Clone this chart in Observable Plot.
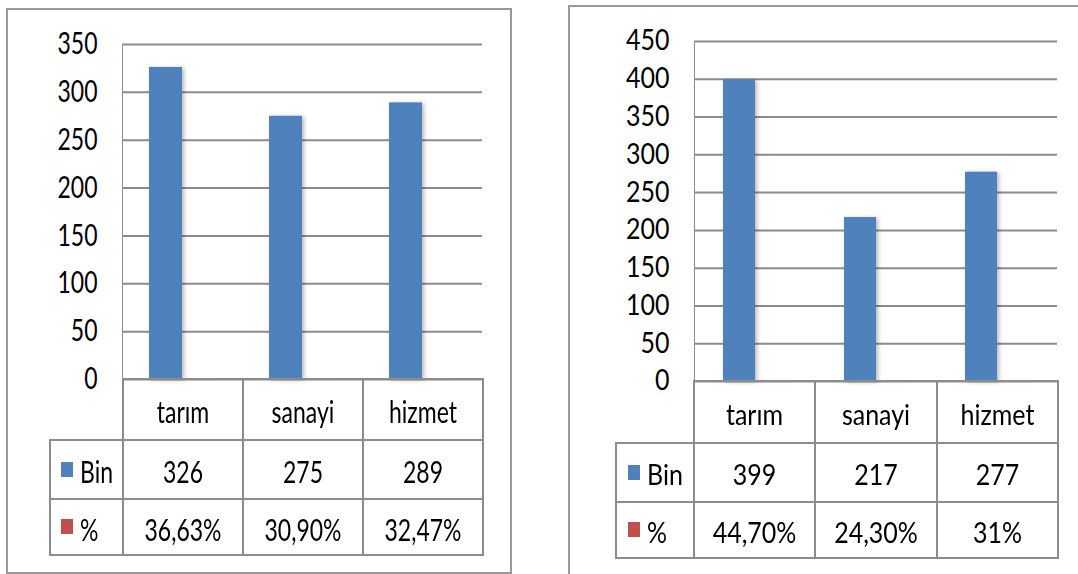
<!DOCTYPE html>
<html>
<head>
<meta charset="utf-8">
<script src="https://cdn.jsdelivr.net/npm/d3@7"></script>
<script src="https://cdn.jsdelivr.net/npm/@observablehq/plot@0.6"></script>
<style>
  html, body { margin: 0; padding: 0; background: #fff; overflow: hidden; }
  #root { position: relative; width: 1078px; height: 574px; overflow: hidden; background: #fff;
          font-family: Lato, "Open Sans", sans-serif; }
  .panel { position: absolute; border: 2px solid #9a9a9a; box-sizing: border-box; }
  .chart { position: absolute; }
  .chart svg text { fill: #000; }
  .chart svg g[aria-label="bar"] rect { filter: drop-shadow(2px 1px 2px rgba(0,0,0,0.28)); }
  table.dt { position: absolute; border-collapse: collapse; table-layout: fixed; color: #000; }
  table.dt td { border: 2px solid #8c8c8c; text-align: center; vertical-align: middle; padding: 0; white-space: nowrap; }
  table.dt td.corner { border-top: hidden; border-left: hidden; }
  table.dt td.leg { text-align: left; }
  .tx { display: inline-block; vertical-align: middle; }
  .sw { display: inline-block; width: 12px; height: 15px; vertical-align: middle; margin-right: 7px; position: relative; top: -2px; }
</style>
</head>
<body>
<div id="root"></div>
<script>
// ---- data ----
const categories = ["tarım", "sanayi", "hizmet"];
const seriesNames = ["Bin", "%"];
const seriesColors = ["#4F81BD", "#C0504D"];

const leftBin = [326, 275, 289];
const leftPct = [0.3663, 0.3090, 0.3247];
const leftPctLabels = ["36,63%", "30,90%", "32,47%"];
const leftTicks = [0, 50, 100, 150, 200, 250, 300, 350];

const rightBin = [399, 217, 277];
const rightPct = [0.447, 0.243, 0.31];
const rightPctLabels = ["44,70%", "24,30%", "31%"];
const rightTicks = [0, 50, 100, 150, 200, 250, 300, 350, 400, 450];

const root = document.getElementById("root");

function panel(cfg) {
  const box = document.createElement("div");
  box.className = "panel";
  Object.assign(box.style, cfg.box);
  root.appendChild(box);

  const rows = categories.flatMap((c, i) => [
    {category: c, series: seriesNames[0], value: cfg.bin[i]},
    {category: c, series: seriesNames[1], value: cfg.pct[i]}
  ]);

  const chart = Plot.plot({
    width: cfg.svg.width,
    height: cfg.svg.height,
    marginLeft: cfg.svg.ml,
    marginRight: cfg.svg.mr,
    marginTop: cfg.svg.mt,
    marginBottom: cfg.svg.mb,
    style: {background: "transparent", color: "#8c8c8c", fontSize: cfg.font + "px",
            fontFamily: 'Lato, "Open Sans", sans-serif', overflow: "visible"},
    facet: {data: rows, x: "category"},
    fx: {domain: categories, padding: 0, axis: null, label: null},
    x: {domain: seriesNames, paddingInner: 0, paddingOuter: cfg.outer, axis: null},
    y: {domain: [0, cfg.ticks[cfg.ticks.length - 1]], ticks: cfg.ticks, tickSize: 0, tickPadding: cfg.pad,
        label: null, line: true},
    color: {domain: seriesNames, range: seriesColors},
    marks: [
      Plot.ruleY(cfg.ticks, {stroke: "#8c8c8c", strokeWidth: 2}),
      Plot.barY(rows, {x: "series", y: "value", fill: "series"})
    ]
  });
  // stretch text vertically to mimic the tall, narrow original typeface
  chart.querySelectorAll("text").forEach(t => {
    const tr = t.getAttribute("transform");
    if (tr) t.setAttribute("transform", tr + ` scale(1,${cfg.sy})`);
    else {
      const x = +t.getAttribute("x") || 0, y = +t.getAttribute("y") || 0;
      t.setAttribute("x", 0); t.setAttribute("y", 0);
      t.setAttribute("transform", `translate(${x},${y}) scale(1,${cfg.sy})`);
    }
  });
  const wrap = document.createElement("div");
  wrap.className = "chart";
  wrap.style.left = cfg.svg.left + "px";
  wrap.style.top = "0px";
  wrap.appendChild(chart);
  root.appendChild(wrap);

  // data table
  const t = document.createElement("table");
  t.className = "dt";
  t.style.left = cfg.table.left + "px";
  t.style.top = cfg.table.top + "px";
  t.style.fontSize = cfg.font + "px";
  const cg = document.createElement("colgroup");
  cfg.table.cols.forEach(w => { const c = document.createElement("col"); c.style.width = w + "px"; cg.appendChild(c); });
  t.appendChild(cg);
  const txt = (s) => { const sp = document.createElement("span"); sp.className = "tx"; sp.textContent = s; sp.style.transform = `scaleY(${cfg.sy})`; return sp; };
  const mkRow = (h) => { const tr = document.createElement("tr"); tr.style.height = h + "px"; t.appendChild(tr); return tr; };
  const r0 = mkRow(cfg.table.rows[0]);
  const c0 = document.createElement("td"); c0.className = "corner"; r0.appendChild(c0);
  categories.forEach(c => { const td = document.createElement("td"); td.appendChild(txt(c)); r0.appendChild(td); });
  const bodyRows = [cfg.bin.map(String), cfg.pctLabels];
  bodyRows.forEach((vals, si) => {
    const tr = mkRow(cfg.table.rows[si + 1]);
    const lg = document.createElement("td"); lg.className = "leg";
    lg.style.paddingLeft = cfg.table.legPad + "px";
    const sw = document.createElement("span"); sw.className = "sw"; sw.style.background = seriesColors[si];
    lg.appendChild(sw); lg.appendChild(txt(seriesNames[si]));
    tr.appendChild(lg);
    vals.forEach(v => { const td = document.createElement("td"); td.appendChild(txt(v)); tr.appendChild(td); });
  });
  root.appendChild(t);
}

panel({
  box: {left: "6px", top: "8px", width: "506px", height: "566px"},
  bin: leftBin, pct: leftPct, pctLabels: leftPctLabels, ticks: leftTicks,
  font: 23, sy: 1.3, pad: 25, outer: 0.818,
  svg: {left: 0, width: 512, height: 400, ml: 122, mr: 30, mt: 44, mb: 21},
  table: {left: 49, top: 378, cols: [73, 120, 120, 120], rows: [61, 59, 56], legPad: 10}
});

panel({
  box: {left: "568px", top: "5px", width: "700px", height: "700px"},
  bin: rightBin, pct: rightPct, pctLabels: rightPctLabels, ticks: rightTicks,
  font: 25, sy: 1.12, pad: 25, outer: 0.89,
  svg: {left: 560, width: 518, height: 400, ml: 133, mr: 21, mt: 41, mb: 19},
  table: {left: 615, top: 380, cols: [78, 121, 122, 121], rows: [62, 59, 56], legPad: 11}
});
</script>
</body>
</html>
